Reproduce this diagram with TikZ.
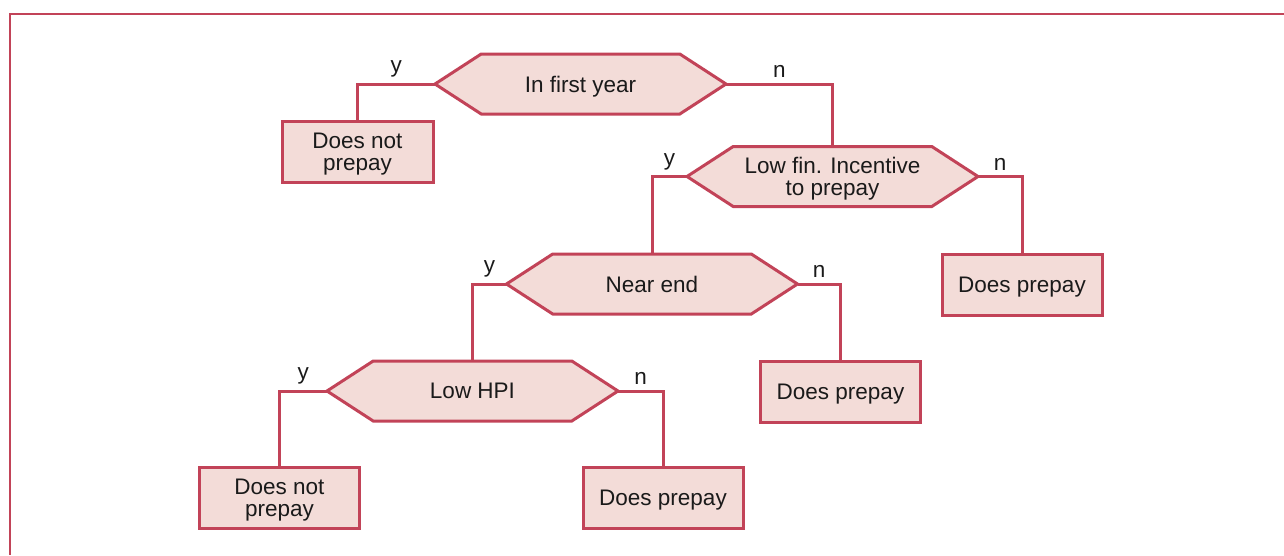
\documentclass[tikz,border=0pt]{standalone}
\usepackage{fontspec}
\setmainfont{Liberation Sans}
\usepackage{xcolor}
\usepackage{tikz}
\usetikzlibrary{shapes.symbols}

\definecolor{edgered}{HTML}{C24358}
\definecolor{boxfill}{HTML}{F3DCD8}
\definecolor{textblk}{HTML}{1A1A1A}

\begin{document}
\begin{tikzpicture}[
    x=1pt, y=-1pt,
    every node/.style={font=\fontsize{22.5}{22}\selectfont, text=textblk},
    test/.style={signal, signal to=west and east, signal pointer angle=66,
        draw=edgered, fill=boxfill, line width=3pt, minimum width=291pt,
        minimum height=60pt, inner sep=0pt, outer sep=0pt, align=center, text depth=0pt},
    outcome/.style={rectangle, draw=edgered, fill=boxfill, line width=3pt,
        minimum width=160pt, minimum height=61pt, inner sep=0pt, outer sep=0pt, align=center, text depth=0pt},
    link/.style={draw=edgered, line width=3pt},
    lbl/.style={above, inner sep=5pt}
]
\useasboundingbox (0,0) rectangle (1284,555);
\draw[edgered, line width=2pt] (1284,14) -- (10,14) -- (10,555);

% Tests
\node[test] (first) at (580.5,84) {In first year};
\node[test] (fin) at (832.5,176.5) {Low fin. Incentive\\to prepay};
\node[test] (end) at (652,284) {Near end};
\node[test] (hpi) at (472.5,391) {Low HPI};

% Outcomes
\node[outcome, minimum width=151pt] (nopay1) at (357.5,151.5) {Does not\\prepay};
\node[outcome] (pay1) at (1022,284.5) {Does prepay};
\node[outcome] (pay2) at (840.5,391.5) {Does prepay};
\node[outcome] (nopay2) at (279.5,498) {Does not\\prepay};
\node[outcome] (pay3) at (663,498) {Does prepay};

% Branches
\draw[link] (first.west) -| node[lbl, pos=0.25] {y} (nopay1.north);
\draw[link] (first.east) -| node[lbl, pos=0.25] {n} (fin.north);
\draw[link] (fin.west) -| node[lbl, pos=0.25] {y} (end.north);
\draw[link] (fin.east) -| node[lbl, pos=0.25] {n} (pay1.north);
\draw[link] (end.west) -| node[lbl, pos=0.25] {y} (hpi.north);
\draw[link] (end.east) -| node[lbl, pos=0.25] {n} (pay2.north);
\draw[link] (hpi.west) -| node[lbl, pos=0.25] {y} (nopay2.north);
\draw[link] (hpi.east) -| node[lbl, pos=0.25] {n} (pay3.north);
\end{tikzpicture}
\end{document}
